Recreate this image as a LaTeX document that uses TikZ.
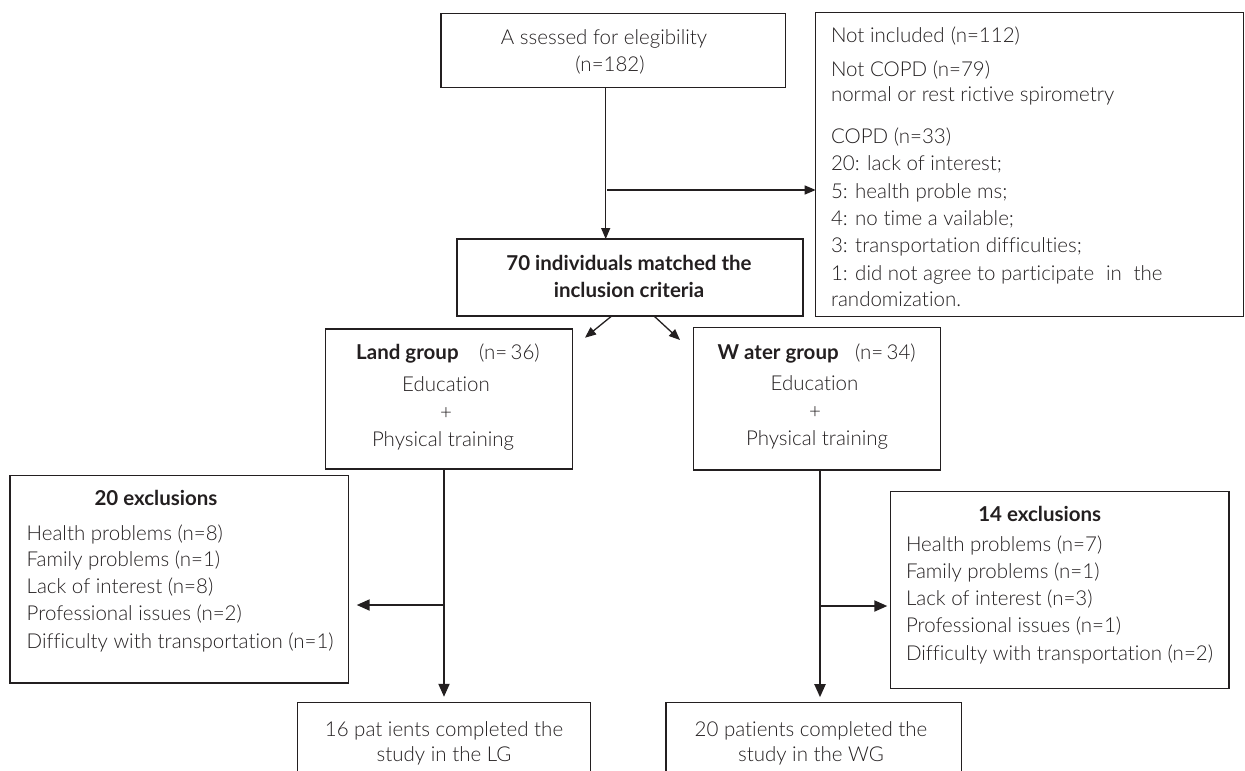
\documentclass[tikz,border=0pt]{standalone}
\usepackage{fontspec}
\setmainfont{Lato}[UprightFont=* Light, BoldFont=* Bold, Ligatures={NoCommon}]
\usetikzlibrary{arrows.meta}
\definecolor{ink}{HTML}{231F20}
\newcommand{\fsz}{\fontsize{20.5}{25}\selectfont}
\begin{document}
\begin{tikzpicture}[x=1pt,y=-1pt,
  box/.style={draw=ink, line width=1.3pt, inner sep=0pt, outer sep=0pt},
  txt/.style={inner sep=0pt, outer sep=0pt, text=ink, font=\fsz},
  arrA/.style={draw=ink, line width=1.3pt, -{Triangle[length=11pt,width=9pt]}},
  arrB/.style={draw=ink, line width=2pt, -{Triangle[length=13pt,width=11pt]}}]
\useasboundingbox (0,0) rectangle (1245,771);
\clip (0,0) rectangle (1245,771);
\fill[white] (0,0) rectangle (1245,771);

% boxes
\node[box, minimum width=344.5pt, minimum height=74.4pt] (A) at (613.25,50.5) {};
\node[box, minimum width=427.8pt, minimum height=304.4pt] (NI) at (1029.6,164.5) {};
\node[box, minimum width=346pt, minimum height=77pt] (B70) at (630,277.5) {};
\node[box, minimum width=246.6pt, minimum height=140pt] (Land) at (449,399) {};
\node[box, minimum width=247.4pt, minimum height=142.3pt] (Water) at (817,398.85) {};
\node[box, minimum width=338.3pt, minimum height=207.3pt] (LEx) at (179.15,579.35) {};
\node[box, minimum width=338.3pt, minimum height=196.6pt] (REx) at (1059.85,590) {};
\node[box, minimum width=292.6pt, minimum height=97.7pt] (LB) at (443.9,751.15) {};
\node[box, minimum width=295.6pt, minimum height=97.3pt] (RB) at (813.8,751.35) {};

% texts: box A
\node[txt, anchor=base] (a1) at (604,44) {A ssessed for elegibility};
\node[txt, anchor=base] (a2) at (610,71) {(n=182)};
% not included
\node[txt, anchor=base west] (n1) at (831,42.7) {Not included\hspace{0.3em}(n=112)};
\node[txt, anchor=base west] (n2) at (831,76.7) {Not COPD (n=79)};
\node[txt, anchor=base west] (n3) at (831,101.7) {normal or rest rictive spirometry};
\node[txt, anchor=base west] (n4) at (831,143) {COPD (n=33)};
\node[txt, anchor=base west] (n5) at (831,170.7) {20: lack of interest;};
\node[txt, anchor=base west] (n6) at (831,198) {5: health proble ms;};
\node[txt, anchor=base west] (n7) at (831,225) {4: no time a vailable;};
\node[txt, anchor=base west] (n8) at (831,252.7) {3: transportation difficulties;};
\node[txt, anchor=base west] (n9) at (831,280) {1: did not agree to participate\hspace{0.3em} in\hspace{0.3em} the};
\node[txt, anchor=base west] (n10) at (831,306.7) {randomization.};
% 70 individuals
\node[txt, anchor=base] (b1) at (629,270) {\textbf{70 individuals matched the}};
\node[txt, anchor=base] (b2) at (629,297) {\textbf{inclusion criteria}};
% land group
\node[txt, anchor=base] (l1) at (448,359) {\textbf{Land group}\hspace{1em}(n=\,36)};
\node[txt, anchor=base] (l2) at (446,391.7) {Education};
\node[txt, anchor=base] (l3) at (446,419) {+};
\node[txt, anchor=base] (l4) at (443,446.7) {Physical training};
% water group
\node[txt, anchor=base] (w1) at (816.7,359) {\textbf{W ater group}\hspace{0.8em}(n=\,34)};
\node[txt, anchor=base] (w2) at (814.5,390.7) {Education};
\node[txt, anchor=base] (w3) at (815,418) {+};
\node[txt, anchor=base] (w4) at (817,445.7) {Physical training};
% left exclusions
\node[txt, anchor=base] (le0) at (156,505) {\textbf{20 exclusions}};
\node[txt, anchor=base west] (le1) at (26.7,540) {Health problems (n=8)};
\node[txt, anchor=base west] (le2) at (26.7,566.7) {Family problems (n=1)};
\node[txt, anchor=base west] (le3) at (26.7,593.3) {Lack of interest (n=8)};
\node[txt, anchor=base west] (le4) at (26.7,620) {Professional issues (n=2)};
\node[txt, anchor=base west] (le5) at (26.7,648) {Difficulty with transportation (n=1)};
% right exclusions
\node[txt, anchor=base] (re0) at (1039.7,521.7) {\textbf{14 exclusions}};
\node[txt, anchor=base west] (re1) at (906,551.7) {Health problems (n=7)};
\node[txt, anchor=base west] (re2) at (906,578.3) {Family problems (n=1)};
\node[txt, anchor=base west] (re3) at (906,605) {Lack of interest (n=3)};
\node[txt, anchor=base west] (re4) at (906,632.7) {Professional issues (n=1)};
\node[txt, anchor=base west] (re5) at (906,660) {Difficulty with transportation (n=2)};
% bottom boxes
\node[txt, anchor=base] (lb1) at (444,736) {16 pat ients completed the};
\node[txt, anchor=base] (lb2) at (444,761.7) {study in the LG};
\node[txt, anchor=base] (rb1) at (811,736) {20 patients completed the};
\node[txt, anchor=base] (rb2) at (811,761.7) {study in the WG};

% connectors
\coordinate (vx) at (605.7,0);
\coordinate (br) at (607,190);
\draw[arrA] (A.south -| vx) -- (B70.north -| vx);
\draw[arrA] (br) -- (NI.west |- br);
\coordinate (dls) at (611.7,316);
\coordinate (dlt) at (585,337.7);
\coordinate (drs) at (654,316);
\coordinate (drt) at (680,340);
\draw[arrA] (dls) -- (dlt);
\draw[arrA] (drs) -- (drt);

\coordinate (lx) at (444,0);
\coordinate (lj) at (444,605);
\draw[arrB, shorten >=5.5pt] (Land.south -| lx) -- (LB.north -| lx);
\draw[arrB, shorten >=8.4pt] (lj) -- (LEx.east |- lj);
\coordinate (wx) at (820,0);
\coordinate (wj) at (820,606);
\draw[arrB, shorten >=5.5pt] (Water.south -| wx) -- (RB.north -| wx);
\draw[arrB, shorten >=3.4pt] (wj) -- (REx.west |- wj);
\end{tikzpicture}
\end{document}
